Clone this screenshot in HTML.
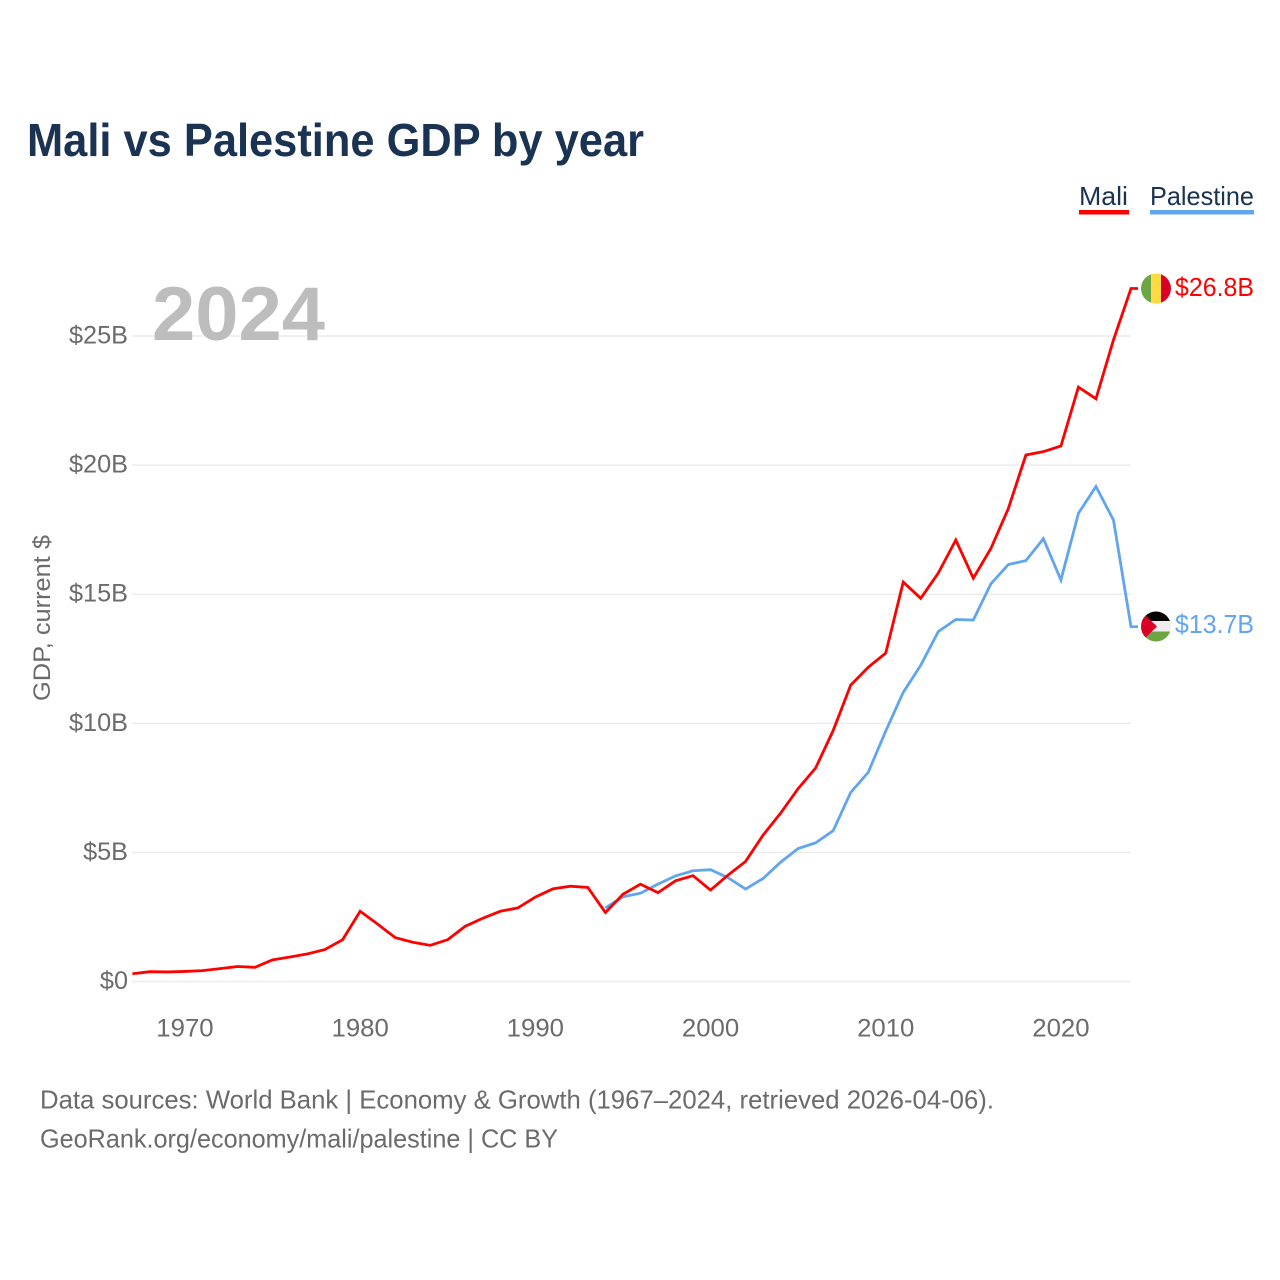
<!DOCTYPE html>
<html lang="en">
<head>
<meta charset="utf-8">
<title>Mali vs Palestine GDP by year</title>
<style>
html,body{margin:0;padding:0;background:#fff;width:1280px;height:1280px;overflow:hidden}
svg{display:block}
text{font-family:"Liberation Sans",sans-serif}
</style>
</head>
<body>
<svg id="chart" xmlns="http://www.w3.org/2000/svg" width="1280" height="1280" viewBox="0 0 1280 1280">
  <defs>
    <clipPath id="clip-mali"><circle cx="1156" cy="288.5" r="15"/></clipPath>
    <clipPath id="clip-pse"><circle cx="1156" cy="626.5" r="15"/></clipPath>
  </defs>
  <rect width="1280" height="1280" fill="#fff"/>
  <text x="27" y="156" font-size="46" font-weight="700" fill="#1a3353" textLength="617" lengthAdjust="spacingAndGlyphs">Mali vs Palestine GDP by year</text>

  <g id="grid"></g>
  <g id="ylabels"></g>
  <g id="xlabels"></g>

  <text x="152" y="340" font-size="76" font-weight="700" fill="#bdbdbd" textLength="173" lengthAdjust="spacingAndGlyphs">2024</text>

  <text transform="translate(50,618) rotate(-90)" text-anchor="middle" font-size="24" fill="#6b6b6b" textLength="166" lengthAdjust="spacingAndGlyphs">GDP, current $</text>

  <g id="series"></g>

  <g>
    <text x="1079" y="205" font-size="26" fill="#1a3353" textLength="49" lengthAdjust="spacingAndGlyphs">Mali</text>
    <rect x="1079" y="210" width="50" height="4.5" fill="#ff0000"/>
  </g>
  <g>
    <text x="1150" y="205" font-size="26" fill="#1a3353" textLength="104" lengthAdjust="spacingAndGlyphs">Palestine</text>
    <rect x="1150" y="210" width="104" height="4.5" fill="#60a5ee"/>
  </g>

  <g clip-path="url(#clip-mali)">
    <rect x="1141" y="273" width="10" height="31" fill="#6da544"/>
    <rect x="1151" y="273" width="10" height="31" fill="#ffda44"/>
    <rect x="1161" y="273" width="10" height="31" fill="#d80027"/>
  </g>
  <text id="label-mali" x="1175" y="296" font-size="26" fill="#ff0000" textLength="79" lengthAdjust="spacingAndGlyphs"></text>

  <g clip-path="url(#clip-pse)">
    <rect x="1141" y="611" width="30" height="11" fill="#000000"/>
    <rect x="1141" y="621" width="30" height="11" fill="#eeeeee"/>
    <rect x="1141" y="631.5" width="30" height="11" fill="#6da544"/>
    <polygon points="1141,611 1141,642 1157,626.5" fill="#d80027"/>
  </g>
  <text id="label-pse" x="1175" y="633" font-size="26" fill="#60a5ee" textLength="79" lengthAdjust="spacingAndGlyphs"></text>

  <text x="40" y="1108.5" font-size="26" fill="#6b6b6b" textLength="954" lengthAdjust="spacingAndGlyphs">Data sources: World Bank | Economy &amp; Growth (1967–2024, retrieved 2026-04-06).</text>
  <text x="40" y="1147.5" font-size="26" fill="#6b6b6b" textLength="518" lengthAdjust="spacingAndGlyphs">GeoRank.org/economy/mali/palestine | CC BY</text>
</svg>
<script>
var maliYears = [1967,1968,1969,1970,1971,1972,1973,1974,1975,1976,1977,1978,1979,1980,1981,1982,1983,1984,1985,1986,1987,1988,1989,1990,1991,1992,1993,1994,1995,1996,1997,1998,1999,2000,2001,2002,2003,2004,2005,2006,2007,2008,2009,2010,2011,2012,2013,2014,2015,2016,2017,2018,2019,2020,2021,2022,2023,2024];
var maliValues = [0.30,0.38,0.37,0.39,0.42,0.50,0.58,0.55,0.84,0.95,1.07,1.24,1.62,2.72,2.22,1.70,1.52,1.40,1.62,2.14,2.45,2.72,2.85,3.27,3.59,3.69,3.64,2.67,3.38,3.77,3.44,3.90,4.10,3.54,4.12,4.65,5.67,6.52,7.47,8.27,9.72,11.48,12.17,12.72,15.47,14.84,15.82,17.10,15.62,16.77,18.32,20.39,20.52,20.74,23.02,22.57,24.85,26.84];
var palestineYears = [1994,1995,1996,1997,1998,1999,2000,2001,2002,2003,2004,2005,2006,2007,2008,2009,2010,2011,2012,2013,2014,2015,2016,2017,2018,2019,2020,2021,2022,2023,2024];
var palestineValues = [2.85,3.28,3.42,3.77,4.09,4.29,4.33,4.02,3.58,3.99,4.62,5.15,5.37,5.84,7.32,8.10,9.70,11.20,12.25,13.55,14.02,14.00,15.40,16.15,16.30,17.15,15.55,18.13,19.17,17.87,13.74];
var yTicks = [0,5,10,15,20,25];
var yTickLabels = ["$0","$5B","$10B","$15B","$20B","$25B"];
var xTicks = [1970,1980,1990,2000,2010,2020];
var xTickLabels = ["1970","1980","1990","2000","2010","2020"];

var NS = 'http://www.w3.org/2000/svg';
function xScale(year){ return 132.4 + (year - 1967) * (1131 - 132.4) / 57; }
function yScale(v){ return 981.5 - v * 25.82; }
function fmt(v){ return '$' + v.toFixed(1) + 'B'; }

function narrow(el, factor){
  var len = el.getComputedTextLength();
  if (len > 0) {
    el.setAttribute('textLength', (len * factor).toFixed(1));
    el.setAttribute('lengthAdjust', 'spacingAndGlyphs');
  }
}

var grid = document.getElementById('grid');
var ylabels = document.getElementById('ylabels');
var xlabels = document.getElementById('xlabels');
var series = document.getElementById('series');

yTicks.forEach(function(t, i){
  var l = document.createElementNS(NS, 'line');
  
  
  l.setAttribute('x1', 132);
  l.setAttribute('x2', 1131);
  l.setAttribute('y1', yScale(t));
  l.setAttribute('y2', yScale(t));
  l.setAttribute('stroke', '#ececec');
  l.setAttribute('stroke-width', '1.5');
  grid.appendChild(l);

  var s = document.createElementNS(NS, 'text');
  
  
  s.setAttribute('x', 128);
  s.setAttribute('y', yScale(t) + 7.5);
  s.setAttribute('text-anchor', 'end');
  s.setAttribute('font-size', '25');
  s.setAttribute('fill', '#6b6b6b');
  s.textContent = yTickLabels[i];
  ylabels.appendChild(s);
  narrow(s, 1.01);
});

xTicks.forEach(function(t, i){
  var s = document.createElementNS(NS, 'text');
  
  
  s.setAttribute('x', xScale(t));
  s.setAttribute('y', 1036.5);
  s.setAttribute('text-anchor', 'middle');
  s.setAttribute('font-size', '25');
  s.setAttribute('fill', '#6b6b6b');
  s.textContent = xTickLabels[i];
  xlabels.appendChild(s);
  narrow(s, 1.03);
});

function drawSeries(years, values, color, name){
  var pts = years.map(function(y, i){
    return xScale(y).toFixed(2) + ',' + yScale(values[i]).toFixed(2);
  });
  var last = values[values.length - 1];
  pts.push('1138,' + yScale(last).toFixed(2));
  var p = document.createElementNS(NS, 'polyline');
  
  
  p.setAttribute('points', pts.join(' '));
  p.setAttribute('fill', 'none');
  p.setAttribute('stroke', color);
  p.setAttribute('stroke-width', '2.8');
  p.setAttribute('stroke-linejoin', 'miter');
  series.appendChild(p);
}
drawSeries(palestineYears, palestineValues, '#60a5ee', 'palestine-line');
drawSeries(maliYears, maliValues, '#ff0000', 'mali-line');

document.getElementById('label-mali').textContent = fmt(maliValues[maliValues.length - 1]);
document.getElementById('label-pse').textContent = fmt(palestineValues[palestineValues.length - 1]);
</script>
</body>
</html>
